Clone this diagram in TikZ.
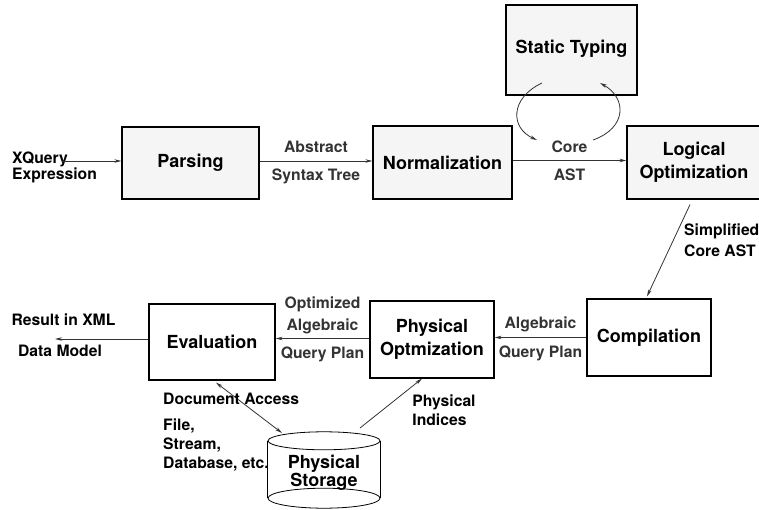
\documentclass[tikz,border=0pt]{standalone}
\usepackage{fontspec}
\setmainfont{TeX Gyre Heros}
\usepackage{tikz}
\usetikzlibrary{arrows.meta}
\tikzstyle{phase}=[rectangle, draw=black, line width=1.2pt, fill=gray!8, inner sep=2pt, align=center, font=\fontsize{18}{23}\selectfont\bfseries]
\tikzstyle{plainphase} = [phase, fill=white]
\tikzstyle{lbl} = [inner sep=4pt, text height=11.5pt, text depth=3pt, font=\fontsize{15.7}{19}\selectfont\bfseries]
\tikzstyle{note} = [lbl, text height=, text depth=, align=left]
\tikzstyle{edge} = [draw, line width=.8pt, black!80, -{Stealth[length=7pt, width=3.5pt]}]
\tikzstyle{bothedge} = [edge, {Stealth[length=7pt, width=3.5pt]}-{Stealth[length=7pt, width=3.5pt]}]

\begin{document}
\begin{tikzpicture}[x=1pt, y=-1pt]
	\useasboundingbox (0,0) rectangle (759,510);

	% upper row
	\node[phase, minimum width=131, minimum height=90] (typing) at (571.5,50) {\raisebox{6pt}{Static Typing}};
	\node[phase, minimum width=137, minimum height=72] (parse) at (190.5,163) {Parsing};
	\node[phase, minimum width=139, minimum height=73] (norm) at (442.5,162.5) {Normalization};
	\node[phase, minimum width=134, minimum height=73] (logic) at (694,162.5) {Logical\\Optimization};

	% lower row
	\node[plainphase, minimum width=124, minimum height=77] (compile) at (649,337.5) {Compilation};
	\node[plainphase, minimum width=124, minimum height=77] (physopt) at (432,339.5) {Physical\\Optmization};
	\node[plainphase, minimum width=126, minimum height=76] (eval) at (212,342) {Evaluation};

	% storage
	\node[inner sep=0pt, minimum width=112, minimum height=57, font=\fontsize{18}{18.5}\selectfont\bfseries, align=center] (store) at (324,473) {Physical\\Storage};
	\draw[line width=.8pt] ([yshift=3.5pt]store.north west) -- ([yshift=3.5pt]store.south west);
	\draw[line width=.8pt] ([yshift=3.5pt]store.north east) -- ([yshift=3.5pt]store.south east);
	\draw[line width=.8pt] ([yshift=3.5pt]store.north) ellipse [x radius=56, y radius=9];
	\draw[line width=.8pt] ([yshift=3.5pt]store.south) ellipse [x radius=56, y radius=10];

	\node[note, anchor=west] (xquery) at (8,167) {XQuery\\[-3pt]Expression};
	\coordinate (xq) at (62,161);
	\draw[edge] (xq) -- (xq -| parse.west);

	\draw[edge] ([yshift=2pt]parse.east) -- node[lbl, above=1pt] (abs) {Abstract} node[lbl, below=4pt] (syn) {Syntax Tree} ([yshift=2pt]parse.east -| norm.west);
	\draw[edge] ([yshift=2pt]norm.east) -- node[lbl, above=1pt] (core) {Core} node[lbl, below=4pt] (ast) {AST} ([yshift=2pt]norm.east -| logic.west);

	% type checking loop
	\coordinate (t_1) at (542,83);
	\coordinate (t_2) at (537,140);
	\coordinate (t_3) at (593,140);
	\coordinate (t_4) at (600,83);
	\draw[edge] (t_1) .. controls (510,98) and (510,128) .. (t_2);
	\draw[edge] (t_3) .. controls (627,128) and (627,98) .. (t_4);

	\draw[edge] ([xshift=-4pt, yshift=-5pt]logic.south) -- ([xshift=-2pt, yshift=2pt]compile.north);
	\node[note, anchor=west] (simp) at (680,240) {Simplified\\[2pt]Core AST};

	\draw[edge] (compile.west) -- node[lbl, above=2pt] (alg) {Algebraic} node[lbl, below=4pt] (qp) {Query Plan} (compile.west -| physopt.east);
	\draw[edge] ([yshift=1pt]physopt.west) -- node[note, above, align=center] (opt) {Optimized\\[3pt]Algebraic} node[lbl, below=4pt] (qp2) {Query Plan} ([yshift=1pt]physopt.west -| eval.east);

	\coordinate (res) at (55,339);
	\draw[edge] ([yshift=3pt]eval.west) -- ([yshift=3pt]eval.west -| res);
	\node[lbl] (xml) at (63.5,321) {Result in XML};
	\node[lbl] (dm) at (60,352) {Data Model};

	% access paths
	\coordinate (s_1) at (282,433);
	\coordinate (s_2) at (360,428);
	\draw[bothedge] ([xshift=4pt, yshift=-2pt]eval.south) -- (s_1);
	\draw[edge] (s_2) -- ([xshift=-10pt]physopt.south);
	\node[lbl, anchor=west] (docacc) at (159,400) {Document Access};
	\node[note, anchor=west] (kinds) at (159,445) {File,\\Stream,\\Database, etc.};
	\node[note] (idx) at (444,410) {Physical\\Indices};
\end{tikzpicture}
\end{document}
